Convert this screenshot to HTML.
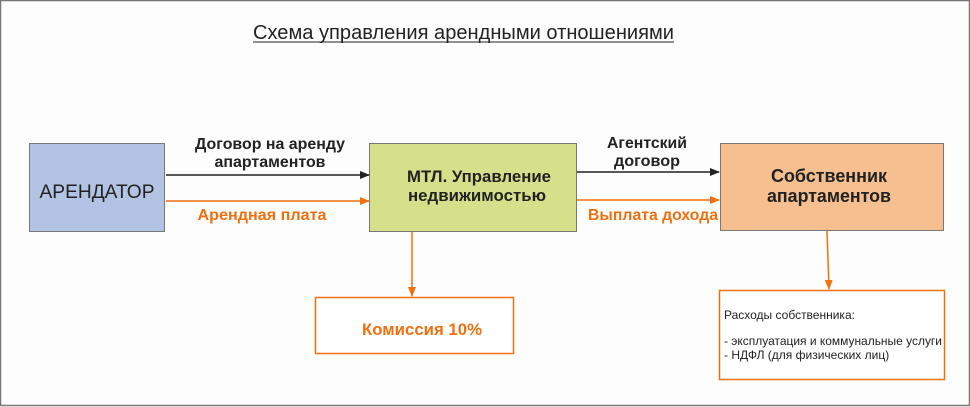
<!DOCTYPE html>
<html><head><meta charset="utf-8"><style>
html,body{margin:0;padding:0;background:#fff}
svg{display:block}
text{font-family:"Liberation Sans",Arial,sans-serif}
</style></head><body>
<svg width="970" height="407" viewBox="0 0 970 407" xmlns="http://www.w3.org/2000/svg">
<defs>
<marker id="ab" markerWidth="10" markerHeight="8" refX="9" refY="4" orient="auto" markerUnits="userSpaceOnUse"><path d="M0,0L10,4L0,8z" fill="#222"/></marker>
<marker id="ao" markerWidth="10" markerHeight="8" refX="9" refY="4" orient="auto" markerUnits="userSpaceOnUse"><path d="M0,0L10,4L0,8z" fill="#f07010"/></marker>
</defs>
<rect x="0.5" y="0.5" width="969" height="405" fill="#fcfdfc" stroke="#777" stroke-width="1.5"/>
<text x="253" y="39" font-size="20" fill="#222" textLength="421" lengthAdjust="spacingAndGlyphs">Схема управления арендными отношениями</text>
<line x1="253" y1="42" x2="674" y2="42" stroke="#222" stroke-width="1"/>

<rect x="29.5" y="143.5" width="135" height="88" fill="#b3c3e3" stroke="#777"/>
<text x="97" y="198" font-size="19" fill="#222" text-anchor="middle" textLength="115" lengthAdjust="spacingAndGlyphs">АРЕНДАТОР</text>

<rect x="369.5" y="143.5" width="207" height="88" fill="#d4e08a" stroke="#777"/>
<text x="479" y="182" font-size="16.5" font-weight="bold" fill="#222" text-anchor="middle" textLength="144" lengthAdjust="spacingAndGlyphs">МТЛ. Управление</text>
<text x="477" y="201" font-size="16.5" font-weight="bold" fill="#222" text-anchor="middle" textLength="138" lengthAdjust="spacingAndGlyphs">недвижимостью</text>

<rect x="720.5" y="143.5" width="223" height="87" fill="#f5bf8f" stroke="#777"/>
<text x="829" y="182" font-size="18" font-weight="bold" fill="#222" text-anchor="middle" textLength="116" lengthAdjust="spacingAndGlyphs">Собственник</text>
<text x="829" y="202" font-size="18" font-weight="bold" fill="#222" text-anchor="middle" textLength="124" lengthAdjust="spacingAndGlyphs">апартаментов</text>

<rect x="315.5" y="297.5" width="198" height="56" fill="#fff" stroke="#f07010" stroke-width="1.5"/>
<text x="422" y="335" font-size="16.5" font-weight="bold" fill="#f07010" text-anchor="middle" textLength="120" lengthAdjust="spacingAndGlyphs">Комиссия 10%</text>

<rect x="719.5" y="290.5" width="225" height="89" fill="#fff" stroke="#f07010" stroke-width="1.5"/>
<text x="724" y="319" font-size="12" fill="#222">Расходы собственника:</text>
<text x="724" y="345" font-size="12" fill="#222" textLength="218" lengthAdjust="spacingAndGlyphs">- эксплуатация и коммунальные услуги</text>
<text x="724" y="359" font-size="12" fill="#222">- НДФЛ (для физических лиц)</text>

<line x1="166" y1="175" x2="369" y2="175" stroke="#222" stroke-width="1.5" marker-end="url(#ab)"/>
<line x1="166" y1="201" x2="369" y2="201" stroke="#f07010" stroke-width="1.5" marker-end="url(#ao)"/>
<text x="270" y="149" font-size="15.5" font-weight="bold" fill="#222" text-anchor="middle" textLength="150" lengthAdjust="spacingAndGlyphs">Договор на аренду</text>
<text x="270" y="167" font-size="15.5" font-weight="bold" fill="#222" text-anchor="middle" textLength="111" lengthAdjust="spacingAndGlyphs">апартаментов</text>
<text x="262" y="220" font-size="16" font-weight="bold" fill="#f07010" text-anchor="middle" textLength="129" lengthAdjust="spacingAndGlyphs">Арендная плата</text>

<line x1="577" y1="172" x2="719" y2="172" stroke="#222" stroke-width="1.5" marker-end="url(#ab)"/>
<line x1="577" y1="200" x2="719" y2="200" stroke="#f07010" stroke-width="1.5" marker-end="url(#ao)"/>
<text x="647" y="148" font-size="15.5" font-weight="bold" fill="#222" text-anchor="middle" textLength="80" lengthAdjust="spacingAndGlyphs">Агентский</text>
<text x="647" y="166" font-size="15.5" font-weight="bold" fill="#222" text-anchor="middle" textLength="66" lengthAdjust="spacingAndGlyphs">договор</text>
<text x="588" y="220" font-size="16" font-weight="bold" fill="#f07010" textLength="130" lengthAdjust="spacingAndGlyphs">Выплата дохода</text>

<line x1="412" y1="232" x2="412" y2="296" stroke="#f07010" stroke-width="1.5" marker-end="url(#ao)"/>
<line x1="827" y1="231" x2="829" y2="289" stroke="#f07010" stroke-width="1.5" marker-end="url(#ao)"/>
</svg>
</body></html>
